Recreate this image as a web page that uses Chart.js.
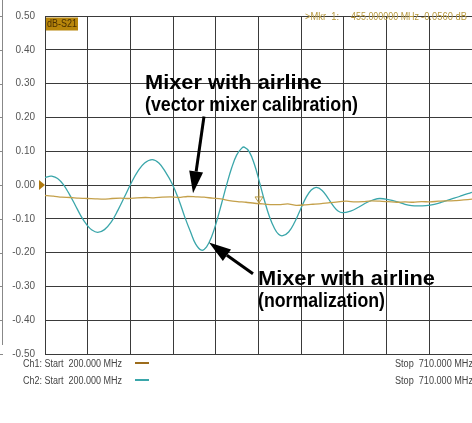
<!DOCTYPE html>
<html>
<head>
<meta charset="utf-8">
<script src="https://cdn.jsdelivr.net/npm/chart.js@4.4.1/dist/chart.umd.min.js"></script>
<style>
html,body{margin:0;padding:0;background:#fff;}
canvas{display:block;}
</style>
</head>
<body>
<canvas id="c" width="472" height="423"></canvas>
<script>
// ---- Data ----
const xStartMHz = 200;
const xStopMHz = 710;
const xGridMHz = [200, 251, 302, 353, 404, 455, 506, 557, 608, 659, 710];
const yTicks = [0.5, 0.4, 0.3, 0.2, 0.1, 0, -0.1, -0.2, -0.3, -0.4, -0.5];

// Ch1: mixer with airline (vector mixer calibration), dB
const ch1Freq = [200,210,220,230,240,250,260,270,280,290,300,310,320,330,340,350,360,370,380,390,400,410,420,430,440,450,460,470,480,490,500,510,520,530,540,550,560,570,580,590,600,610,620,630,640,650,660,670,680,690,700,710];
const ch1Val  = [-0.031,-0.033,-0.036,-0.037,-0.039,-0.040,-0.041,-0.042,-0.040,-0.039,-0.040,-0.038,-0.037,-0.038,-0.036,-0.035,-0.037,-0.034,-0.035,-0.036,-0.039,-0.041,-0.046,-0.049,-0.051,-0.054,-0.056,-0.058,-0.058,-0.056,-0.060,-0.059,-0.057,-0.055,-0.052,-0.050,-0.048,-0.050,-0.049,-0.047,-0.048,-0.049,-0.051,-0.050,-0.051,-0.049,-0.050,-0.048,-0.047,-0.046,-0.044,-0.042];

// Ch2: mixer with airline (normalization), dB
const ch2Freq = [200,204,208,215,222,229,236,243,250,256,263,271,279,287,295,303,311,319,328,336,344,352,360,367,374,380,387,393,399,405,411,417,423,429,435,438,444,450,456,462,468,474,479,484,491,498,505,512,518,524,531,538,545,550,555,565,575,585,593,600,610,620,630,638,645,655,665,675,685,695,703,710];
const ch2Val  = [0.022,0.025,0.026,0.019,0.001,-0.027,-0.059,-0.092,-0.118,-0.133,-0.140,-0.132,-0.110,-0.075,-0.035,0.006,0.041,0.065,0.075,0.065,0.038,0.003,-0.045,-0.095,-0.140,-0.175,-0.193,-0.183,-0.153,-0.108,-0.054,0.001,0.051,0.089,0.109,0.112,0.098,0.062,0.010,-0.045,-0.093,-0.128,-0.146,-0.150,-0.139,-0.111,-0.073,-0.036,-0.015,-0.007,-0.016,-0.039,-0.064,-0.077,-0.082,-0.077,-0.065,-0.051,-0.043,-0.040,-0.043,-0.049,-0.057,-0.061,-0.062,-0.061,-0.057,-0.050,-0.042,-0.034,-0.027,-0.022];

// Marker 1
const mkrFreq = 455;
const mkrVal = -0.056;

// ---- Styles ----
const C_CH1 = '#c4a04a';
const C_CH1_LEG = '#9c6c1c';
const C_CH2 = '#3aa6aa';
const C_GRID = '#3a3a3a';
const C_MKR = '#b89a40';

const ch1Data = ch1Freq.map((f, i) => ({x: f, y: ch1Val[i]}));
const ch2Data = ch2Freq.map((f, i) => ({x: f, y: ch2Val[i]}));

const TXT_FONT = '"Liberation Sans", Arial, sans-serif';
const ANN_FONT = 'bold 21px "Liberation Sans", Arial, sans-serif';

function arrow(ctx, x0, y0, x1, y1) {
  const ang = Math.atan2(y1 - y0, x1 - x0);
  const hl = 22, hw = 7;
  const bx = x1 - Math.cos(ang) * hl, by = y1 - Math.sin(ang) * hl;
  ctx.save();
  ctx.strokeStyle = '#000';
  ctx.fillStyle = '#000';
  ctx.lineWidth = 3;
  ctx.beginPath();
  ctx.moveTo(x0, y0);
  ctx.lineTo(bx, by);
  ctx.stroke();
  ctx.beginPath();
  ctx.moveTo(x1, y1);
  ctx.lineTo(bx + Math.sin(ang) * hw, by - Math.cos(ang) * hw);
  ctx.lineTo(bx - Math.sin(ang) * hw, by + Math.cos(ang) * hw);
  ctx.closePath();
  ctx.fill();
  ctx.restore();
}

// draw text horizontally condensed to a given width
function fitText(ctx, txt, x, y, width) {
  const sx = width / ctx.measureText(txt).width;
  ctx.save();
  ctx.translate(x, y);
  ctx.scale(sx, 1);
  ctx.fillText(txt, 0, 0);
  ctx.restore();
}

const decor = {
  id: 'decor',
  afterDraw(chart) {
    const ctx = chart.ctx;
    const xs = chart.scales.x, ys = chart.scales.y;
    const area = chart.chartArea;
    const px = v => xs.getPixelForValue(v);
    const py = v => ys.getPixelForValue(v);
    ctx.save();

    // dB-S21 label box
    ctx.fillStyle = '#b8860b';
    ctx.fillRect(area.left + 1, area.top + 1.5, 32, 13);
    ctx.fillStyle = '#4a3000';
    ctx.font = '10px ' + TXT_FONT;
    ctx.textBaseline = 'middle';
    ctx.textAlign = 'left';
    ctx.fillText('dB-S21', area.left + 2, area.top + 8, 30);

    // Marker readout
    ctx.fillStyle = C_MKR;
    ctx.font = '11px ' + TXT_FONT;
    ctx.fillText('>Mkr  1:', 305, 17, 34);
    ctx.fillText('455.000000 MHz', 351, 17, 68);
    ctx.fillText('-0.0560 dB', 421, 17, 46);

    // Reference level triangle at 0 dB
    const y0 = py(0);
    ctx.fillStyle = '#b07a10';
    ctx.beginPath();
    ctx.moveTo(area.left - 6, y0 - 5);
    ctx.lineTo(area.left - 6, y0 + 5);
    ctx.lineTo(area.left, y0);
    ctx.closePath();
    ctx.fill();

    // Marker 1 glyph on Ch1 trace
    const mx = px(mkrFreq), my = py(mkrVal) - 1;
    ctx.strokeStyle = C_MKR;
    ctx.lineWidth = 1;
    ctx.beginPath();
    ctx.moveTo(mx + 0.5, my - 14);
    ctx.lineTo(mx + 0.5, my);
    ctx.stroke();
    ctx.beginPath();
    ctx.moveTo(mx - 3.5, my - 6);
    ctx.lineTo(mx + 4.5, my - 6);
    ctx.lineTo(mx + 0.5, my);
    ctx.closePath();
    ctx.stroke();

    // Annotations (bold, horizontally condensed)
    ctx.fillStyle = '#000';
    ctx.textBaseline = 'alphabetic';
    ctx.font = ANN_FONT;
    const t1x = px(319.4), t1y = py(0.2837);
    fitText(ctx, 'Mixer with airline', t1x, t1y, 177);
    fitText(ctx, '(vector mixer calibration)', t1x, t1y + 22, 213);
    const t2x = px(454.4), t2y = py(-0.2968);
    fitText(ctx, 'Mixer with airline', t2x, t2y, 177);
    fitText(ctx, '(normalization)', t2x, t2y + 22, 127);

    arrow(ctx, px(389.9), py(0.2026), px(376.8), py(-0.0247));
    arrow(ctx, px(448.4), py(-0.2627), px(395.9), py(-0.1698));

    // Bottom channel legend
    ctx.font = '10px ' + TXT_FONT;
    ctx.fillStyle = '#444';
    ctx.textBaseline = 'middle';
    ctx.fillText('Ch1: Start  200.000 MHz', 23, 364, 99);
    ctx.fillText('Ch2: Start  200.000 MHz', 23, 381, 99);
    ctx.fillText('Stop  710.000 MHz', 395, 364, 78);
    ctx.fillText('Stop  710.000 MHz', 395, 381, 78);
    ctx.lineWidth = 2;
    ctx.strokeStyle = C_CH1_LEG;
    ctx.beginPath(); ctx.moveTo(135, 363); ctx.lineTo(149, 363); ctx.stroke();
    ctx.strokeStyle = C_CH2;
    ctx.beginPath(); ctx.moveTo(135, 380); ctx.lineTo(149, 380); ctx.stroke();

    // Neighbouring panel edge at far left
    ctx.strokeStyle = '#888';
    ctx.lineWidth = 1;
    ctx.beginPath(); ctx.moveTo(2.5, 0); ctx.lineTo(2.5, 345); ctx.stroke();
    yTicks.forEach(v => {
      const yy = Math.round(py(v)) + 0.5;
      ctx.beginPath(); ctx.moveTo(0, yy); ctx.lineTo(3, yy); ctx.stroke();
    });
    ctx.restore();
  }
};

new Chart(document.getElementById('c'), {
  type: 'line',
  data: {
    datasets: [
      { label: 'Ch1', data: ch1Data, borderColor: C_CH1, borderWidth: 1.3, pointRadius: 0, tension: 0.2, fill: false },
      { label: 'Ch2', data: ch2Data, borderColor: C_CH2, borderWidth: 1.3, pointRadius: 0, tension: 0.4, fill: false }
    ]
  },
  options: {
    responsive: false,
    animation: false,
    devicePixelRatio: 1,
    layout: { padding: { top: 9, right: 0, left: 0, bottom: 0 } },
    plugins: { legend: { display: false }, tooltip: { enabled: false } },
    scales: {
      x: {
        type: 'linear',
        min: xStartMHz,
        max: xStopMHz,
        afterBuildTicks: s => { s.ticks = xGridMHz.map(v => ({ value: v })); },
        ticks: { display: false },
        grid: { color: C_GRID, lineWidth: 1, drawTicks: false },
        border: { color: C_GRID, width: 1 },
        afterFit: s => { s.height = 69; }
      },
      y: {
        min: -0.5,
        max: 0.5,
        afterBuildTicks: s => { s.ticks = yTicks.map(v => ({ value: v })); },
        ticks: {
          callback: v => (Math.abs(v) < 1e-9 ? '0.00' : v.toFixed(2)),
          font: { family: '"Liberation Sans", Arial, sans-serif', size: 10 },
          color: '#555',
          padding: 10
        },
        grid: { color: C_GRID, lineWidth: 1, drawTicks: false },
        border: { color: C_GRID, width: 1 },
        afterFit: s => { s.width = 45; }
      }
    }
  },
  plugins: [decor]
});
</script>
</body>
</html>
